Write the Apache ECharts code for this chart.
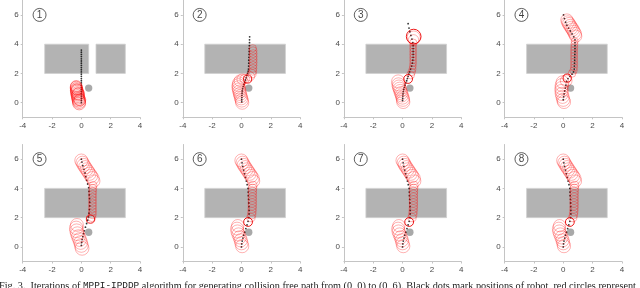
<!DOCTYPE html>
<html><head><meta charset="utf-8">
<script src="https://cdn.jsdelivr.net/npm/echarts@6/dist/echarts.min.js"></script>
<style>html,body{margin:0;padding:0;background:#fff}#c{width:640px;height:288px}</style>
</head><body><div id="c"></div>
<script>
// ---------------- data ----------------
const xTicks = [-4, -2, 0, 2, 4];
const yTicks = [0, 2, 4, 6];
const panelNames = ['1', '2', '3', '4', '5', '6', '7', '8'];
const labelAt = [-2.85, 6.0];
const goalDisk = [[0.5, 1.0, 0.25]];
const obstaclesFirst = [[-2.5, 2, 0.5, 4], [1, 2, 3, 4]];
const obstaclesRest = [[-2.5, 2, 3, 4]];

const dots1 = [[0,0.0],[0,0.15],[0,0.3],[0,0.45],[0,0.6],[0,0.75],[0,0.9],[0,1.05],[0,1.2],[0,1.35],[0,1.5],[0,1.65],[0,1.8],[0,1.95],[0,2.1],[0,2.25],[0,2.4],[0,2.55],[0,2.7],[0,2.85],[0,3.0],[0,3.15],[0,3.3],[0,3.45],[0,3.6]];
const circles1 = [[-0.15,-0.05,0.44],[-0.15,0.05,0.44],[-0.18,0.15,0.44],[-0.2,0.25,0.44],[-0.22,0.35,0.44],[-0.25,0.45,0.44],[-0.25,0.55,0.44],[-0.28,0.65,0.44],[-0.3,0.75,0.44],[-0.32,0.85,0.43],[-0.33,0.95,0.42],[-0.35,1.05,0.41],[-0.35,1.12,0.39],[-0.1,0.2,0.4],[-0.2,0.6,0.42],[-0.3,0.9,0.38]];
const focus1 = [];

const dots2 = [[0.02,0.05],[0.02,0.2],[0.03,0.35],[0.03,0.5],[0.04,0.65],[0.05,0.8],[0.08,0.95],[0.12,1.1],[0.17,1.25],[0.22,1.4],[0.27,1.55],[0.32,1.7],[0.37,1.85],[0.42,2.0],[0.46,2.15],[0.48,2.3],[0.49,2.5],[0.5,2.7],[0.5,2.9],[0.51,3.1],[0.52,3.3],[0.53,3.5],[0.53,3.7],[0.54,3.9],[0.55,4.1],[0.55,4.3],[0.56,4.5]];
const circles2 = [[0.05,0.0,0.45],[0.02,0.15,0.45],[-0.02,0.3,0.45],[-0.06,0.45,0.45],[-0.1,0.6,0.45],[-0.14,0.75,0.45],[-0.17,0.9,0.45],[-0.2,1.05,0.45],[-0.2,1.2,0.44],[-0.18,1.35,0.42],[-0.1,1.5,0.4],[0.05,1.6,0.36],[0.22,1.62,0.32],[0.6,1.8,0.3],[0.72,1.98,0.28],[0.77,2.15,0.27],[0.78,2.35,0.27],[0.79,2.55,0.27],[0.8,2.75,0.27],[0.8,2.95,0.27],[0.8,3.15,0.27],[0.8,3.35,0.27],[0.79,3.55,0.27],[0.77,3.72,0.25]];
const focus2 = [[0.42,1.62,0.28]];

const dots3 = [[0.0,0.15],[0.01,0.3],[0.02,0.45],[0.03,0.6],[0.05,0.75],[0.08,0.9],[0.12,1.05],[0.17,1.2],[0.22,1.35],[0.28,1.5],[0.33,1.65],[0.38,1.8],[0.43,1.95],[0.48,2.1],[0.55,2.3],[0.62,2.5],[0.67,2.7],[0.7,2.9],[0.72,3.1],[0.72,3.3],[0.72,3.5],[0.72,3.7],[0.72,3.9],[0.7,4.1],[0.64,4.35],[0.57,4.6],[0.5,4.85],[0.44,5.1],[0.38,5.4]];
const circles3 = [[0.05,0.05,0.45],[0.03,0.2,0.45],[0.0,0.35,0.45],[-0.05,0.5,0.45],[-0.1,0.65,0.45],[-0.15,0.8,0.45],[-0.2,0.95,0.45],[-0.25,1.1,0.45],[-0.28,1.25,0.45],[-0.3,1.45,0.45],[0.55,1.9,0.27],[0.63,2.1,0.25],[0.68,2.3,0.24],[0.7,2.5,0.23],[0.72,2.7,0.23],[0.72,2.9,0.23],[0.72,3.1,0.23],[0.72,3.3,0.23],[0.72,3.5,0.23],[0.72,3.7,0.23],[0.72,3.9,0.23],[0.73,4.1,0.25],[0.75,4.3,0.35],[0.76,4.45,0.45]];
const focus3 = [[0.38,1.62,0.3],[0.76,4.52,0.5]];

const dots4 = [[0.0,0.2],[0.03,0.4],[0.06,0.6],[0.1,0.8],[0.14,1.0],[0.18,1.2],[0.23,1.45],[0.32,1.65],[0.45,1.8],[0.6,1.95],[0.7,2.1],[0.75,2.3],[0.76,2.5],[0.77,2.7],[0.78,2.9],[0.78,3.1],[0.79,3.3],[0.8,3.5],[0.8,3.7],[0.8,3.9],[0.8,4.1],[0.8,4.3],[0.72,4.5],[0.6,4.7],[0.48,4.9],[0.36,5.1],[0.25,5.3],[0.16,5.5],[0.08,5.75],[0.02,6.0]];
const circles4 = [[0.25,5.65,0.42],[0.32,5.5,0.44],[0.4,5.38,0.45],[0.48,5.25,0.45],[0.56,5.12,0.45],[0.64,5.0,0.45],[0.72,4.85,0.45],[0.8,4.7,0.45],[0.85,4.55,0.42],[0.78,4.2,0.24],[0.76,4.0,0.24],[0.75,3.8,0.24],[0.74,3.6,0.24],[0.74,3.4,0.24],[0.74,3.2,0.24],[0.74,3.0,0.24],[0.74,2.8,0.24],[0.74,2.6,0.24],[0.74,2.4,0.24],[0.7,2.2,0.25],[0.6,2.0,0.26],[0.05,0.05,0.45],[0.0,0.2,0.45],[-0.05,0.4,0.45],[-0.1,0.6,0.45],[-0.12,0.8,0.45],[-0.12,1.0,0.45],[-0.1,1.2,0.45],[-0.05,1.4,0.44],[0.2,1.5,0.4]];
const focus4 = [[0.27,1.68,0.28]];

const dots5 = [[0.0,0.1],[0.02,0.3],[0.05,0.5],[0.1,0.7],[0.15,0.9],[0.2,1.1],[0.28,1.35],[0.36,1.6],[0.43,1.82],[0.48,2.05],[0.52,2.3],[0.55,2.55],[0.57,2.8],[0.57,3.05],[0.56,3.3],[0.54,3.55],[0.52,3.8],[0.5,4.05],[0.43,4.3],[0.36,4.55],[0.3,4.8],[0.25,5.05],[0.18,5.3],[0.1,5.55],[0.04,5.8],[0.0,6.0]];
const circles5 = [[0.0,5.9,0.45],[0.08,5.75,0.45],[0.16,5.6,0.45],[0.26,5.45,0.45],[0.36,5.3,0.45],[0.46,5.15,0.45],[0.56,5.0,0.45],[0.66,4.85,0.45],[0.76,4.7,0.45],[0.85,4.5,0.42],[0.8,4.2,0.27],[0.78,4.0,0.27],[0.77,3.8,0.27],[0.76,3.6,0.27],[0.76,3.4,0.27],[0.76,3.2,0.27],[0.76,3.0,0.27],[0.76,2.8,0.27],[0.76,2.6,0.27],[0.76,2.4,0.27],[0.75,2.2,0.27],[0.72,2.0,0.27],[0.05,-0.1,0.47],[0.0,0.1,0.47],[-0.05,0.3,0.47],[-0.12,0.5,0.47],[-0.2,0.7,0.47],[-0.27,0.9,0.47],[-0.32,1.1,0.47],[-0.35,1.3,0.46],[-0.3,1.5,0.44]];
const focus5 = [[0.62,1.9,0.28]];

const dots6 = [[0.0,0.0],[0.02,0.2],[0.05,0.4],[0.1,0.6],[0.15,0.8],[0.22,1.0],[0.3,1.25],[0.38,1.5],[0.45,1.75],[0.5,2.0],[0.52,2.25],[0.52,2.5],[0.51,2.75],[0.5,3.0],[0.49,3.25],[0.47,3.5],[0.46,3.75],[0.45,4.0],[0.39,4.25],[0.33,4.5],[0.27,4.75],[0.21,5.0],[0.15,5.25],[0.09,5.5],[0.04,5.75],[0.0,6.0]];
const circles6 = [[0.0,5.9,0.45],[0.08,5.75,0.45],[0.16,5.6,0.45],[0.26,5.45,0.45],[0.36,5.3,0.45],[0.46,5.15,0.45],[0.56,5.0,0.45],[0.66,4.85,0.45],[0.76,4.7,0.45],[0.83,4.5,0.42],[0.78,4.2,0.28],[0.76,4.0,0.28],[0.75,3.8,0.28],[0.74,3.6,0.28],[0.74,3.4,0.28],[0.74,3.2,0.28],[0.74,3.0,0.28],[0.74,2.8,0.28],[0.73,2.6,0.28],[0.72,2.4,0.28],[0.7,2.2,0.28],[0.65,2.0,0.28],[0.05,0.05,0.45],[0.0,0.25,0.45],[-0.05,0.45,0.45],[-0.12,0.65,0.45],[-0.2,0.85,0.45],[-0.27,1.05,0.45],[-0.3,1.25,0.44],[-0.25,1.45,0.42]];
const focus6 = [[0.45,1.7,0.3]];

const dots7 = [[0.0,0.0],[0.02,0.2],[0.05,0.4],[0.1,0.6],[0.15,0.8],[0.22,1.0],[0.3,1.25],[0.38,1.5],[0.45,1.75],[0.5,2.0],[0.52,2.25],[0.52,2.5],[0.51,2.75],[0.5,3.0],[0.49,3.25],[0.47,3.5],[0.46,3.75],[0.45,4.0],[0.39,4.25],[0.33,4.5],[0.27,4.75],[0.21,5.0],[0.15,5.25],[0.09,5.5],[0.04,5.75],[0.0,6.0]];
const circles7 = [[0.0,5.9,0.45],[0.08,5.75,0.45],[0.16,5.6,0.45],[0.26,5.45,0.45],[0.36,5.3,0.45],[0.46,5.15,0.45],[0.56,5.0,0.45],[0.66,4.85,0.45],[0.76,4.7,0.45],[0.83,4.5,0.42],[0.78,4.2,0.28],[0.76,4.0,0.28],[0.75,3.8,0.28],[0.74,3.6,0.28],[0.74,3.4,0.28],[0.74,3.2,0.28],[0.74,3.0,0.28],[0.74,2.8,0.28],[0.73,2.6,0.28],[0.72,2.4,0.28],[0.7,2.2,0.28],[0.65,2.0,0.28],[0.05,0.05,0.45],[0.0,0.25,0.45],[-0.05,0.45,0.45],[-0.12,0.65,0.45],[-0.2,0.85,0.45],[-0.27,1.05,0.45],[-0.3,1.25,0.44],[-0.25,1.45,0.42]];
const focus7 = [[0.45,1.7,0.3]];

const dots8 = [[0.0,0.0],[0.02,0.2],[0.05,0.4],[0.1,0.6],[0.15,0.8],[0.22,1.0],[0.3,1.25],[0.38,1.5],[0.45,1.75],[0.5,2.0],[0.52,2.25],[0.52,2.5],[0.51,2.75],[0.5,3.0],[0.49,3.25],[0.47,3.5],[0.46,3.75],[0.45,4.0],[0.39,4.25],[0.33,4.5],[0.27,4.75],[0.21,5.0],[0.15,5.25],[0.09,5.5],[0.04,5.75],[0.0,6.0]];
const circles8 = [[0.0,5.9,0.45],[0.08,5.75,0.45],[0.16,5.6,0.45],[0.26,5.45,0.45],[0.36,5.3,0.45],[0.46,5.15,0.45],[0.56,5.0,0.45],[0.66,4.85,0.45],[0.76,4.7,0.45],[0.83,4.5,0.42],[0.78,4.2,0.28],[0.76,4.0,0.28],[0.75,3.8,0.28],[0.74,3.6,0.28],[0.74,3.4,0.28],[0.74,3.2,0.28],[0.74,3.0,0.28],[0.74,2.8,0.28],[0.73,2.6,0.28],[0.72,2.4,0.28],[0.7,2.2,0.28],[0.65,2.0,0.28],[0.05,0.05,0.45],[0.0,0.25,0.45],[-0.05,0.45,0.45],[-0.12,0.65,0.45],[-0.2,0.85,0.45],[-0.27,1.05,0.45],[-0.3,1.25,0.44],[-0.25,1.45,0.42]];
const focus8 = [[0.45,1.7,0.3]];

const captionA = 'Fig. 3.  Iterations of ';
const captionCode = 'MPPI-IPDDP';
const captionB = ' algorithm for generating collision free path from (0, 0) to (0, 6). Black dots mark positions of robot, red circles represent';

// ---------------- layout ----------------
const colLeft = [22.7, 182.8, 343.9, 504.6];
const rowTop = [0.3, 144.5];
const gridW = 117.3, gridH = 117;

const allDots = [dots1, dots2, dots3, dots4, dots5, dots6, dots7, dots8];
const allCircles = [circles1, circles2, circles3, circles4, circles5, circles6, circles7, circles8];
const allFocus = [focus1, focus2, focus3, focus4, focus5, focus6, focus7, focus8];

const chart = echarts.init(document.getElementById('c'), null, {renderer: 'canvas'});
const grids = [], xAxes = [], yAxes = [], series = [];
const axisColor = '#c4c4c4', labelColor = '#4a4a4a';

function circleItem(stroke, width, fill) {
  return function (params, api) {
    const c = api.coord([api.value(0), api.value(1)]);
    const s = api.size([api.value(2), api.value(2)]);
    return {type: 'circle', shape: {cx: c[0], cy: c[1], r: s[0]},
      style: {fill: fill || 'none', stroke: stroke, lineWidth: width}};
  };
}
function rectItem(params, api) {
  const p0 = api.coord([api.value(0), api.value(3)]);
  const p1 = api.coord([api.value(2), api.value(1)]);
  return {type: 'rect', shape: {x: p0[0], y: p0[1], width: p1[0] - p0[0], height: p1[1] - p0[1]},
    style: {fill: '#b3b3b3', stroke: '#cfcfcf', lineWidth: 0.8}};
}

for (let i = 0; i < 8; i++) {
  const r = Math.floor(i / 4), c = i % 4;
  grids.push({left: colLeft[c], top: rowTop[r], width: gridW, height: gridH, containLabel: false});
  xAxes.push({gridIndex: i, type: 'value', min: -4, max: 4, interval: 2,
    axisLine: {show: true, onZero: false, lineStyle: {color: axisColor, width: 1}},
    axisTick: {show: true, inside: false, length: 2, lineStyle: {color: axisColor}},
    axisLabel: {color: labelColor, fontSize: 8, fontFamily: 'Liberation Sans', margin: 4},
    splitLine: {show: false}});
  yAxes.push({gridIndex: i, type: 'value', min: -1, max: 7,
    axisLine: {show: true, onZero: false, lineStyle: {color: axisColor, width: 1}},
    axisTick: {show: true, inside: false, length: 2, customValues: yTicks, lineStyle: {color: axisColor}},
    axisLabel: {color: labelColor, fontSize: 8, fontFamily: 'Liberation Sans', margin: 4, customValues: yTicks},
    splitLine: {show: false}});
  const ax = {xAxisIndex: i, yAxisIndex: i};
  series.push(Object.assign({type: 'custom', z: 1, renderItem: rectItem, clip: false,
    encode: {x: [0, 2], y: [1, 3]}, data: i === 0 ? obstaclesFirst : obstaclesRest, silent: true}, ax));
  series.push(Object.assign({type: 'custom', z: 2, renderItem: circleItem('#a9a9a9', 0, '#a9a9a9'), clip: false,
    encode: {x: 0, y: 1}, data: goalDisk, silent: true}, ax));
  series.push(Object.assign({type: 'scatter', z: 3, symbol: 'circle', symbolSize: 1.8,
    itemStyle: {color: '#000'}, data: allDots[i], silent: true}, ax));
  series.push(Object.assign({type: 'custom', z: 4, renderItem: circleItem(i === 0 ? 'rgba(255,0,0,0.5)' : 'rgba(255,0,0,0.38)', 0.8), clip: false,
    encode: {x: 0, y: 1}, data: allCircles[i], silent: true}, ax));
  series.push(Object.assign({type: 'custom', z: 5, renderItem: circleItem('rgba(235,0,0,0.9)', 1), clip: false,
    encode: {x: 0, y: 1}, data: allFocus[i], silent: true}, ax));
  series.push(Object.assign({type: 'scatter', z: 6, symbol: 'circle', symbolSize: 13,
    itemStyle: {color: '#fff', borderColor: '#222', borderWidth: 0.9},
    label: {show: true, position: 'inside', formatter: panelNames[i], color: '#111', fontSize: 10, fontFamily: 'Liberation Sans'},
    data: [labelAt], silent: true}, ax));
}

chart.setOption({
  animation: false,
  backgroundColor: '#fff',
  title: {text: '{s|' + captionA + '}{m|' + captionCode + '}{s|' + captionB + '}', left: -1, top: 281, padding: 0,
    textStyle: {fontWeight: 'normal', rich: {
      s: {fontFamily: 'Liberation Serif', fontSize: 10.25, fontWeight: 'normal', color: '#222'},
      m: {fontFamily: 'Liberation Mono', fontSize: 9.4, fontWeight: 'normal', color: '#222'}}}},
  grid: grids, xAxis: xAxes, yAxis: yAxes, series: series
});
</script></body></html>
